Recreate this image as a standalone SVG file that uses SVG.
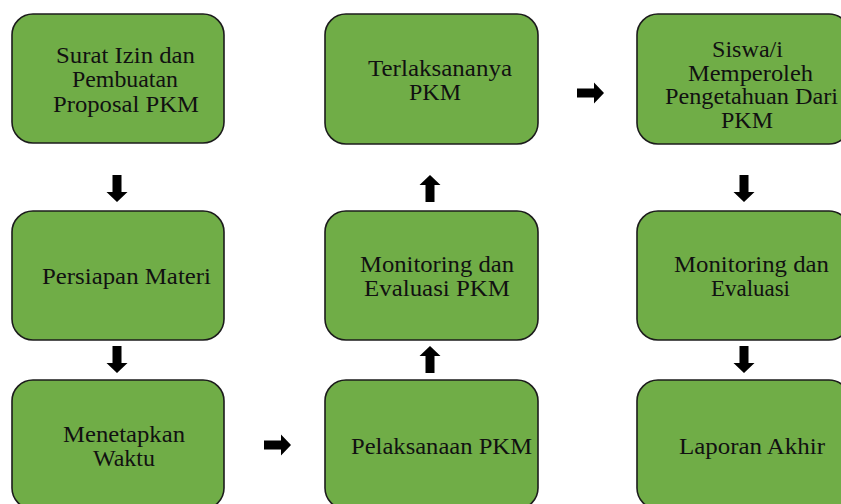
<svg xmlns="http://www.w3.org/2000/svg" width="841" height="504" viewBox="0 0 841 504">
<style>
.box{fill:#70AD47;stroke:#1c1c1c;stroke-width:1.6}
.t{font-family:"Liberation Serif","Times New Roman",serif;font-size:23px;fill:#111}
.arr{fill:#000}
</style>
<defs>
<path id="dn" d="M-4.5,0 H4.5 V17 H10.5 L0,27 L-10.5,17 H-4.5 Z"/>
</defs>
<rect width="841" height="504" fill="#fff"/>
<g id="n1"><rect class="box" x="12" y="14" width="212" height="129" rx="21"/>
<text class="t" x="56" y="63" textLength="139" lengthAdjust="spacingAndGlyphs">Surat Izin dan</text>
<text class="t" x="72" y="87" textLength="106" lengthAdjust="spacingAndGlyphs">Pembuatan</text>
<text class="t" x="53" y="112" textLength="146" lengthAdjust="spacingAndGlyphs">Proposal PKM</text></g>
<g id="n2"><rect class="box" x="12" y="211" width="212" height="129" rx="21"/>
<text class="t" x="42" y="284" textLength="169" lengthAdjust="spacingAndGlyphs">Persiapan Materi</text></g>
<g id="n3"><rect class="box" x="12" y="380" width="212" height="129" rx="21"/>
<text class="t" x="63" y="442" textLength="122" lengthAdjust="spacingAndGlyphs">Menetapkan</text>
<text class="t" x="93" y="466" textLength="62" lengthAdjust="spacingAndGlyphs">Waktu</text></g>
<g id="n4"><rect class="box" x="325" y="380" width="213" height="129" rx="21"/>
<text class="t" x="351" y="454" textLength="181" lengthAdjust="spacingAndGlyphs">Pelaksanaan PKM</text></g>
<g id="n5"><rect class="box" x="325" y="211" width="213" height="129" rx="21"/>
<text class="t" x="360" y="272" textLength="154" lengthAdjust="spacingAndGlyphs">Monitoring dan</text>
<text class="t" x="364" y="296" textLength="146" lengthAdjust="spacingAndGlyphs">Evaluasi PKM</text></g>
<g id="n6"><rect class="box" x="325" y="14" width="213" height="130" rx="21"/>
<text class="t" x="368" y="76" textLength="144" lengthAdjust="spacingAndGlyphs">Terlaksananya</text>
<text class="t" x="409" y="100" textLength="52" lengthAdjust="spacingAndGlyphs">PKM</text></g>
<g id="n7"><rect class="box" x="637" y="14" width="213" height="130" rx="21"/>
<text class="t" x="712" y="57" textLength="71" lengthAdjust="spacingAndGlyphs">Siswa/i</text>
<text class="t" x="688" y="81" textLength="125" lengthAdjust="spacingAndGlyphs">Memperoleh</text>
<text class="t" x="665" y="104" textLength="173" lengthAdjust="spacingAndGlyphs">Pengetahuan Dari</text>
<text class="t" x="721" y="128" textLength="52" lengthAdjust="spacingAndGlyphs">PKM</text></g>
<g id="n8"><rect class="box" x="637" y="211" width="213" height="129" rx="21"/>
<text class="t" x="674" y="272" textLength="155" lengthAdjust="spacingAndGlyphs">Monitoring dan</text>
<text class="t" x="711" y="296" textLength="79" lengthAdjust="spacingAndGlyphs">Evaluasi</text></g>
<g id="n9"><rect class="box" x="637" y="380" width="213" height="129" rx="21"/>
<text class="t" x="679" y="454" textLength="146" lengthAdjust="spacingAndGlyphs">Laporan Akhir</text></g>
<g id="connectors" class="arr">
<use href="#dn" transform="translate(117,175)"/>
<use href="#dn" transform="translate(117,346)"/>
<use href="#dn" transform="translate(264,445) rotate(-90)"/>
<use href="#dn" transform="translate(430,373) rotate(180)"/>
<use href="#dn" transform="translate(430,202) rotate(180)"/>
<use href="#dn" transform="translate(577,93) rotate(-90)"/>
<use href="#dn" transform="translate(744,175)"/>
<use href="#dn" transform="translate(744,346)"/>
</g>
</svg>
